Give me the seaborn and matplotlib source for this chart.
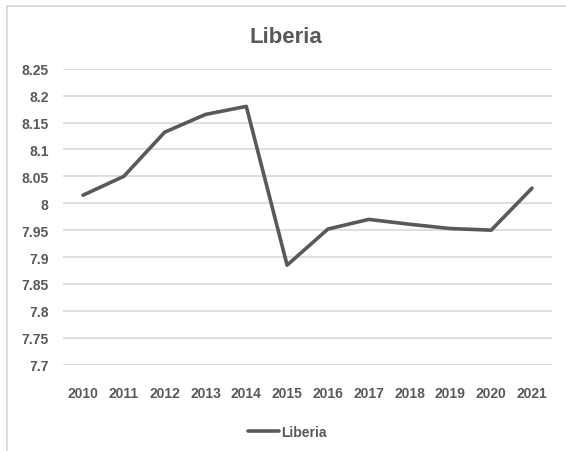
import pandas as pd
import matplotlib.pyplot as plt
import seaborn as sns
from matplotlib.lines import Line2D

# Data
years = [2010, 2011, 2012, 2013, 2014, 2015, 2016, 2017, 2018, 2019, 2020, 2021]
liberia = [8.015, 8.05, 8.132, 8.165, 8.18, 7.885, 7.952, 7.97, 7.961, 7.953, 7.95, 8.028]
yticks = [7.7, 7.75, 7.8, 7.85, 7.9, 7.95, 8.0, 8.05, 8.1, 8.15, 8.2, 8.25]
ytick_labels = ["7.7", "7.75", "7.8", "7.85", "7.9", "7.95", "8", "8.05", "8.1", "8.15", "8.2", "8.25"]

df = pd.DataFrame({"Year": years, "Value": liberia})

sns.set_style("white")
plt.rcParams['font.family'] = ['Liberation Sans', 'DejaVu Sans']
grey = "#595959"
grid = "#d9d9d9"

fig = plt.figure(figsize=(5.66, 4.52), dpi=100)
ax = fig.add_axes([0.1106, 0.1909, 0.8654, 0.6549])

sns.lineplot(data=df, x="Year", y="Value", color=grey, linewidth=2.6, ax=ax)

ax.set_xlim(2009.5, 2021.5)
ax.set_ylim(7.7, 8.25)
ax.set_yticks(yticks)
ax.set_yticklabels(ytick_labels)
ax.set_xticks(years)
ax.set_xticklabels([str(y) for y in years])
ax.yaxis.grid(True, color=grid, linewidth=1.2)
ax.set_axisbelow(True)
for s in ax.spines.values():
    s.set_visible(False)
ax.tick_params(axis="y", length=0, pad=10, labelsize=10, labelcolor=grey)
ax.tick_params(axis="x", length=0, pad=15, labelsize=10, labelcolor=grey)
for lbl in ax.get_xticklabels() + ax.get_yticklabels():
    lbl.set_fontweight("bold")
ax.set_xlabel("")
ax.set_ylabel("")

fig.text(0.505, 0.918, "Liberia", ha="center", va="center", fontsize=16,
         fontweight="bold", color=grey)

# legend
handle = Line2D([], [], color=grey, linewidth=2.6)
fig.legend([handle], ["Liberia"], loc="center", bbox_to_anchor=(0.508, 0.042),
           frameon=False, handlelength=2.2, handletextpad=0.2,
           prop={"weight": "bold", "size": 10}, labelcolor=grey)

# chart border (left and top)
fig.add_artist(Line2D([0.0115, 0.0115], [0, 0.985], color=grid, linewidth=1.3,
                      transform=fig.transFigure))
fig.add_artist(Line2D([0.0115, 1.0], [0.985, 0.985], color=grid, linewidth=1.3,
                      transform=fig.transFigure))

fig.savefig("out.png", dpi=100)
